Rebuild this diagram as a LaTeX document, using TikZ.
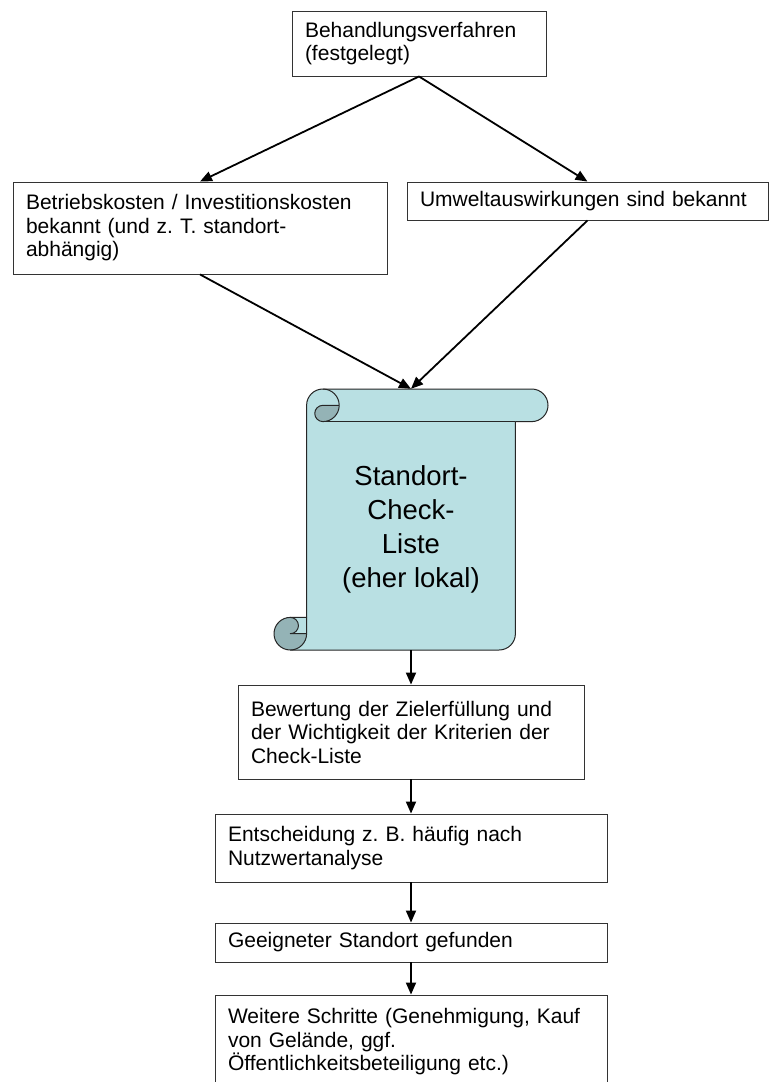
\documentclass[tikz,border=0pt]{standalone}
\usepackage{fontspec}
\setmainfont{Liberation Sans}
\usetikzlibrary{arrows.meta}
\definecolor{scrollfill}{RGB}{185,224,227}
\definecolor{scrolldark}{RGB}{148,179,182}
\frenchspacing
\tikzset{
  box/.style={draw=black!80, line width=0.9pt, fill=white, align=left,
    inner xsep=13pt, inner ysep=0pt, font=\fontsize{21}{23.5}\selectfont},
  conn/.style={line width=1.8pt, -{Triangle[length=12pt,width=10pt]}},
  scrollline/.style={draw=black!85, line width=1pt, line join=round},
  scrolltext/.style={font=\fontsize{27.5}{34}\selectfont, align=center},
}
\begin{document}
\begin{tikzpicture}[x=1pt,y=1pt]
\useasboundingbox (0,0) rectangle (770,-1082);
\clip (0,0) rectangle (770,-1082);
\fill[white] (0,0) rectangle (770,-1082);

% scroll shape
\fill[scrollfill] (306.6,-617.4) -- (306.6,-405.3)
  arc[start angle=180, delta angle=-90, radius=16.3] -- (531.7,-389)
  arc[start angle=90, delta angle=-180, radius=16.3] -- (515.4,-421.6)
  -- (515.4,-633.7) arc[start angle=0, delta angle=-90, radius=16.3]
  -- (290.3,-650) arc[start angle=-90, delta angle=-180, radius=16.3] -- cycle;
\fill[scrolldark] (339.2,-405.3) arc[start angle=0, delta angle=-90, radius=16.3]
  arc[start angle=-90, delta angle=-180, radius=8.15] -- cycle;
\fill[scrolldark] (306.6,-633.7) arc[start angle=0, delta angle=-270, radius=16.3]
  arc[start angle=90, delta angle=-180, radius=8.15] -- cycle;
\draw[scrollline] (306.6,-617.4) -- (306.6,-405.3)
  arc[start angle=180, delta angle=-90, radius=16.3] -- (531.7,-389)
  arc[start angle=90, delta angle=-180, radius=16.3] -- (515.4,-421.6)
  -- (515.4,-633.7) arc[start angle=0, delta angle=-90, radius=16.3]
  -- (290.3,-650) arc[start angle=-90, delta angle=-180, radius=16.3] -- cycle;
\draw[scrollline] (515.4,-421.6) -- (322.9,-421.6);
\draw[scrollline] (322.9,-389) arc[start angle=90, delta angle=-180, radius=16.3]
  arc[start angle=-90, delta angle=-180, radius=8.15] -- (339.2,-405.3);
\draw[scrollline] (290.3,-617.4) arc[start angle=90, delta angle=-180, radius=8.15]
  -- (306.6,-633.7);
\draw[scrollline] (290.3,-650) arc[start angle=-90, delta angle=90, radius=16.3]
  -- (306.6,-617.4);

\node[minimum width=274pt, minimum height=261pt, inner sep=0pt] (scroll) at (411,-519.5) {};
\node[scrolltext] (scrolltxt) at (411,-529) {Standort-\\Check-\\Liste\\(eher lokal)};

% boxes
\node[box, minimum width=254pt, minimum height=65pt, text width=228pt] (beh) at (419,-43.5)
  {Behandlungsverfahren\\(festgelegt)};
\node[box, minimum width=374pt, minimum height=92pt, text width=348pt] (betr) at (200,-228)
  {Betriebskosten / Investitionskosten\\bekannt (und z. T. standort-\\abhängig)};
\node[box, minimum width=361pt, minimum height=38pt, text width=335pt] (umw) at (587.5,-201)
  {Umweltauswirkungen sind bekannt};
\node[box, minimum width=346pt, minimum height=94pt, text width=320pt] (bew) at (411,-732)
  {Bewertung der Zielerfüllung und\\der Wichtigkeit der Kriterien der\\Check-Liste};
\node[box, minimum width=392pt, minimum height=68pt, text width=366pt] (ent) at (411,-848)
  {Entscheidung z. B. häufig nach\\Nutzwertanalyse};
\node[box, minimum width=392pt, minimum height=39pt, text width=366pt] (gee) at (411,-942.5)
  {Geeigneter Standort gefunden};
\node[box, minimum width=392pt, minimum height=94pt, text width=366pt] (wei) at (411,-1042)
  {Weitere Schritte (Genehmigung, Kauf\\von Gelände, ggf.\\Öffentlichkeitsbeteiligung etc.)};

% connectors
\draw[conn] (beh.south) -- (betr.north);
\draw[conn] (beh.south) -- (umw.north);
\draw[conn] (betr.south) -- (scroll.north);
\draw[conn] (umw.south) -- (scroll.north);
\draw[conn] (scroll.south) -- (bew.north);
\draw[conn] (bew.south) -- (ent.north);
\draw[conn] (ent.south) -- (gee.north);
\draw[conn] (gee.south) -- (wei.north);
\end{tikzpicture}
\end{document}
